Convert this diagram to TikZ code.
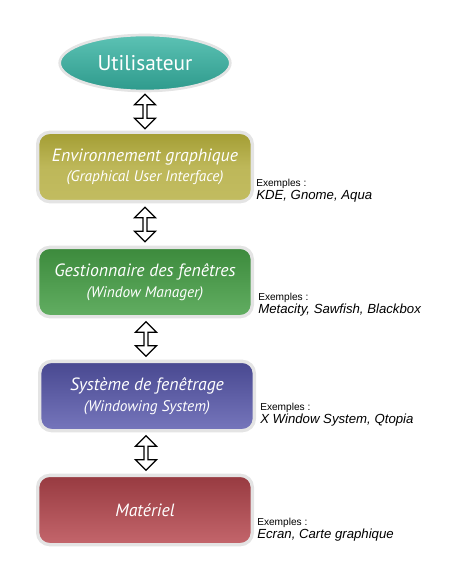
\documentclass[tikz,border=0pt]{standalone}
\usepackage{fontspec}
\setmainfont{Liberation Sans}
\newfontfamily\boxfont{PT Sans}
\usetikzlibrary{shapes.geometric,shapes.arrows,calc}
\definecolor{tealA}{HTML}{5CC2B4}
\definecolor{tealB}{HTML}{2E9A8C}
\definecolor{yelA}{HTML}{A39D33}
\definecolor{yelB}{HTML}{C2BC60}
\definecolor{grnA}{HTML}{3C8A3C}
\definecolor{grnB}{HTML}{62AE62}
\definecolor{bluA}{HTML}{484890}
\definecolor{bluB}{HTML}{7676BC}
\definecolor{redA}{HTML}{973A40}
\definecolor{redB}{HTML}{C4666C}
\definecolor{rim}{HTML}{E4E4E4}
\tikzset{
  layer/.style={rounded corners=9pt, minimum width=161pt, minimum height=52pt,
    draw=rim, line width=2.5pt, text=white, align=center, font=\boxfont\itshape},
  ex/.style={anchor=west, align=left, inner sep=0pt, font=\fontsize{7.6}{9}\selectfont},
  dbl/.style={double arrow, draw=black, fill=white, line width=0.9pt, rotate=90,
    minimum width=16pt, minimum height=26pt, double arrow head extend=4.5pt,
    inner sep=0.6pt, double arrow head indent=0pt}
}
\newcommand{\sub}[1]{\\[3.5pt]{\fontsize{11.5}{13}\selectfont #1}}
\newcommand{\exl}[1]{Exemples :\\[1pt]{\fontsize{9.9}{11}\selectfont\itshape #1}}
\begin{document}
\begin{tikzpicture}[x=0.75pt,y=-0.75pt]
\useasboundingbox (0,0) rectangle (474,566);
\node[ellipse, draw=rim, line width=2pt, top color=tealA, bottom color=tealB,
  minimum width=128pt, minimum height=42pt, text=white,
  font=\boxfont\fontsize{16}{18}\selectfont] (u) at (145,63) {Utilisateur};
\node[layer, top color=yelA, bottom color=yelB, middle color=yelB!85!yelA] (b1) at (145,167)
  {{\fontsize{13.3}{15}\selectfont Environnement graphique}\sub{(Graphical User Interface)}};
\node[layer, top color=grnA, bottom color=grnB] (b2) at (145,282)
  {{\fontsize{13.3}{15}\selectfont Gestionnaire des fenêtres}\sub{(Window Manager)}};
\node[layer, top color=bluA, bottom color=bluB] (b3) at (147,396)
  {{\fontsize{13.3}{15}\selectfont Système de fenêtrage}\sub{(Windowing System)}};
\node[layer, top color=redA, bottom color=redB] (b4) at (145,510)
  {{\fontsize{13.3}{15}\selectfont Matériel}};
\node[dbl] (a1) at ($(u.south)!0.5!(b1.north)$) {};
\node[dbl] (a2) at ($(b1.south)!0.5!(b2.north)$) {};
\node[dbl] (a3) at ($(b2.south)!0.5!(b3.north)$) {};
\node[dbl] (a4) at ($(b3.south)!0.5!(b4.north)$) {};
\node[ex] (e1) at (256,191) {\exl{KDE, Gnome, Aqua}};
\node[ex] (e2) at (258,305) {\exl{Metacity, Sawfish, Blackbox}};
\node[ex] (e3) at (260,415) {\exl{X Window System, Qtopia}};
\node[ex] (e4) at (257,530) {\exl{Ecran, Carte graphique}};
\end{tikzpicture}
\end{document}
